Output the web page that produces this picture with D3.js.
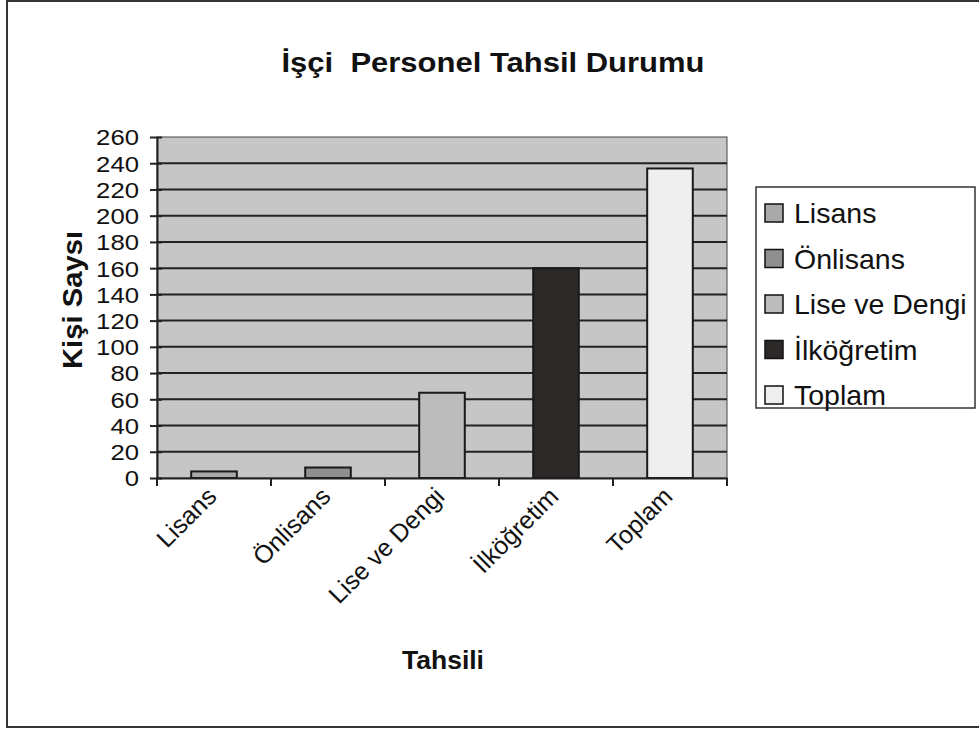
<!DOCTYPE html>
<html>
<head>
<meta charset="utf-8">
<script src="https://cdn.jsdelivr.net/npm/d3@7"></script>
<style>
  body { margin: 0; background: white; }
  text { font-family: "Liberation Sans", Arial, sans-serif; }
</style>
</head>
<body>
<svg id="chart"></svg>
<script>
var width = 979, height = 730;

var categories = ["Lisans", "Önlisans", "Lise ve Dengi", "İlköğretim", "Toplam"];
var values = [5, 8, 65, 160, 236];
var colors = ["#a9a9a9", "#8f8f8f", "#bcbcbc", "#2c2828", "#efefef"];
var yTicks = [0, 20, 40, 60, 80, 100, 120, 140, 160, 180, 200, 220, 240, 260];

var svg = d3.select("#chart")
  .attr("width", width)
  .attr("height", height);

// outer frame
svg.append("rect")
  .attr("x", 7).attr("y", 1)
  .attr("width", 990).attr("height", 726)
  .attr("fill", "white")
  .attr("stroke", "#333").attr("stroke-width", 2);

var plotL = 157, plotR = 727, plotT = 137, plotB = 478;

var x = d3.scaleBand()
  .domain(categories)
  .range([plotL, plotR])
  .paddingInner(0.6)
  .paddingOuter(0.3);

var xTick = d3.scaleBand().domain(categories).range([plotL, plotR]);

var y = d3.scaleLinear()
  .domain([0, 260])
  .range([plotB, plotT]);

// plot area
svg.append("rect")
  .attr("x", plotL).attr("y", plotT)
  .attr("width", plotR - plotL).attr("height", plotB - plotT)
  .attr("fill", "#c6c6c6")
  .attr("stroke", "#444").attr("stroke-width", 1);

// grid lines
svg.selectAll(".grid")
  .data(yTicks.slice(1, -1))
  .enter().append("line")
  .attr("class", "grid")
  .attr("x1", plotL).attr("x2", plotR)
  .attr("y1", function(d){ return y(d); })
  .attr("y2", function(d){ return y(d); })
  .attr("stroke", "#222").attr("stroke-width", 2);

// bars
svg.selectAll(".bar")
  .data(values)
  .enter().append("rect")
  .attr("class", "bar")
  .attr("x", function(d, i){ return x(categories[i]); })
  .attr("width", x.bandwidth())
  .attr("y", function(d){ return y(d); })
  .attr("height", function(d){ return plotB - y(d); })
  .attr("fill", function(d, i){ return colors[i]; })
  .attr("stroke", "#1a1a1a").attr("stroke-width", 2);

// y axis
var yAxis = svg.append("g")
  .attr("transform", "translate(" + plotL + ",0)")
  .call(d3.axisLeft(y).tickValues(yTicks).tickSize(6).tickPadding(12).tickSizeOuter(0));
yAxis.select(".domain").attr("stroke", "#222").attr("stroke-width", 2);
yAxis.selectAll(".tick line").attr("stroke", "#222").attr("stroke-width", 2)
  .attr("x2", 5).attr("x1", -7);
yAxis.selectAll("text")
  .attr("font-size", 22)
  .attr("fill", "#111")
  .attr("dy", "0.36em")
  .attr("textLength", function(d){ return String(d).length * 14.3; })
  .attr("lengthAdjust", "spacingAndGlyphs");

// x axis
var xAxis = svg.append("g")
  .attr("transform", "translate(0," + plotB + ")")
  .call(d3.axisBottom(xTick).tickValues([]).tickSizeOuter(0));
xAxis.select(".domain").attr("stroke", "#222").attr("stroke-width", 2);

svg.selectAll(".xtick")
  .data(categories.concat(["_end"]))
  .enter().append("line")
  .attr("x1", function(d, i){ return plotL + i * xTick.bandwidth(); })
  .attr("x2", function(d, i){ return plotL + i * xTick.bandwidth(); })
  .attr("y1", plotB).attr("y2", plotB + 8)
  .attr("stroke", "#222").attr("stroke-width", 2);

svg.selectAll(".xlabel")
  .data(categories)
  .enter().append("text")
  .attr("class", "xlabel")
  .attr("transform", function(d){
    return "translate(" + (xTick(d) + xTick.bandwidth() / 2 + 4) + "," + (plotB + 20) + ") rotate(-45)";
  })
  .attr("text-anchor", "end")
  .attr("font-size", 25)
  .attr("fill", "#111")
  .text(function(d){ return d; });

// titles
svg.append("text")
  .attr("x", 493).attr("y", 72)
  .attr("text-anchor", "middle")
  .attr("font-size", 27).attr("font-weight", "bold")
  .attr("fill", "#111")
  .attr("xml:space", "preserve")
  .attr("textLength", 423)
  .attr("lengthAdjust", "spacingAndGlyphs")
  .text("İşçi  Personel Tahsil Durumu");

svg.append("text")
  .attr("transform", "translate(82,300) rotate(-90)")
  .attr("text-anchor", "middle")
  .attr("font-size", 28).attr("font-weight", "bold")
  .attr("fill", "#111")
  .attr("textLength", 138)
  .attr("lengthAdjust", "spacingAndGlyphs")
  .text("Kişi Saysı");

svg.append("text")
  .attr("x", 443).attr("y", 669)
  .attr("text-anchor", "middle")
  .attr("font-size", 26).attr("font-weight", "bold")
  .attr("fill", "#111")
  .attr("textLength", 82)
  .attr("lengthAdjust", "spacingAndGlyphs")
  .text("Tahsili");

// legend
var legend = svg.append("g");
legend.append("rect")
  .attr("x", 756).attr("y", 187)
  .attr("width", 219).attr("height", 221)
  .attr("fill", "white")
  .attr("stroke", "#333").attr("stroke-width", 1.5);

var items = legend.selectAll(".item")
  .data(categories)
  .enter().append("g")
  .attr("transform", function(d, i){ return "translate(765," + (213 + i * 45.5) + ")"; });

items.append("rect")
  .attr("x", 0).attr("y", -9)
  .attr("width", 18).attr("height", 18)
  .attr("fill", function(d, i){ return colors[i]; })
  .attr("stroke", "#111").attr("stroke-width", 1.5);

items.append("text")
  .attr("x", 29).attr("y", 10)
  .attr("font-size", 28.5)
  .attr("fill", "#111")
  .text(function(d){ return d; });
</script>
</body>
</html>
